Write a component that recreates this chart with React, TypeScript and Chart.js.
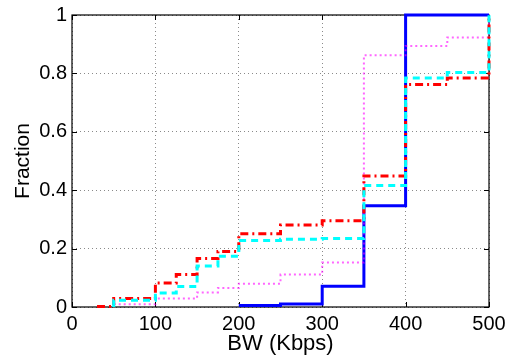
import React, { useEffect, useRef } from 'react';
import { Chart, registerables } from 'chart.js';
Chart.register(...registerables);

const xTickValues = [0, 100, 200, 300, 400, 500];
const yTickValues = [0, 0.2, 0.4, 0.6, 0.8, 1];

const blueX = [200, 250, 300, 350, 400, 500];
const blueY = [0.005, 0.01, 0.071, 0.347, 1, 1];

const cyanX = [50, 50, 100, 125, 150, 175, 200, 250, 300, 350, 400, 450, 500];
const cyanY = [0, 0.023, 0.048, 0.07, 0.14, 0.174, 0.228, 0.232, 0.235, 0.416, 0.784, 0.803, 1];

const redX = [30, 50, 100, 125, 150, 175, 200, 250, 300, 350, 400, 450, 500];
const redY = [0.002, 0.029, 0.082, 0.111, 0.166, 0.19, 0.251, 0.281, 0.295, 0.449, 0.762, 0.784, 1];

const magentaX = [50, 100, 150, 175, 200, 250, 300, 350, 400, 450, 500];
const magentaY = [0.009, 0.029, 0.05, 0.065, 0.08, 0.111, 0.152, 0.862, 0.894, 0.923, 1];

const xTitle = 'BW (Kbps)';
const yTitle = 'Fraction';

const FONT = '"Liberation Sans", Helvetica, Arial, sans-serif';

function pts(xs: number[], ys: number[]) {
  return xs.map((x, i) => ({ x, y: ys[i] }));
}

function zeroPad(s: any) {
  s.paddingLeft = 0;
  s.paddingRight = 0;
  s.paddingTop = 0;
  s.paddingBottom = 0;
}

const boxPlugin = {
  id: 'boxPlugin',
  beforeDatasetsDraw(chart: any) {
    const { ctx, chartArea: a, scales } = chart;
    ctx.save();
    ctx.strokeStyle = '#000';
    ctx.lineWidth = 1;
    ctx.beginPath();
    const tl = 5;
    xTickValues.forEach((v) => {
      const px = Math.round(scales.x.getPixelForValue(v)) + 0.5;
      ctx.moveTo(px, a.bottom);
      ctx.lineTo(px, a.bottom - tl);
      ctx.moveTo(px, a.top);
      ctx.lineTo(px, a.top + tl);
    });
    yTickValues.forEach((v) => {
      const py = Math.round(scales.y.getPixelForValue(v)) + 0.5;
      ctx.moveTo(a.left, py);
      ctx.lineTo(a.left + tl, py);
      ctx.moveTo(a.right, py);
      ctx.lineTo(a.right - tl, py);
    });
    ctx.stroke();
    ctx.lineWidth = 1.2;
    ctx.strokeRect(a.left, a.top, a.right - a.left, a.bottom - a.top);
    ctx.restore();
  },
};

export default function App() {
  const ref = useRef<HTMLCanvasElement | null>(null);
  useEffect(() => {
    if (!ref.current) return;
    const chart = new Chart(ref.current, {
      type: 'line',
      data: {
        datasets: [
          {
            label: 'blue',
            data: pts(blueX, blueY),
            borderColor: '#0000ff',
            borderWidth: 3,
            stepped: 'before',
            pointRadius: 0,
            fill: false,
            order: 4,
            clip: false,
          },
          {
            label: 'magenta',
            data: pts(magentaX, magentaY),
            borderColor: 'rgba(255,0,255,0.6)',
            borderWidth: 2,
            borderDash: [2, 3],
            stepped: 'before',
            pointRadius: 0,
            fill: false,
            order: 3,
            clip: false,
          },
          {
            label: 'red',
            data: pts(redX, redY),
            borderColor: '#ff0000',
            borderWidth: 3,
            borderDash: [8, 4, 2, 4],
            stepped: 'before',
            pointRadius: 0,
            fill: false,
            order: 2,
            clip: false,
          },
          {
            label: 'cyan',
            data: pts(cyanX, cyanY),
            borderColor: '#00ffff',
            borderWidth: 3,
            borderDash: [7, 5],
            stepped: 'before',
            pointRadius: 0,
            fill: false,
            order: 1,
            clip: false,
          },
        ],
      },
      options: {
        animation: false,
        responsive: false,
        maintainAspectRatio: false,
        events: [],
        layout: { padding: { left: 0, right: 18, top: 15, bottom: 0 } },
        plugins: { legend: { display: false }, tooltip: { enabled: false } },
        scales: {
          x: {
            type: 'linear',
            min: 0,
            max: 500,
            afterBuildTicks: (s: any) => {
              s.ticks = xTickValues.map((v) => ({ value: v }));
            },
            afterFit: (s: any) => {
              s.height = 51;
              zeroPad(s);
            },
            ticks: {
              color: '#000',
              font: { family: FONT, size: 20 },
              padding: 5,
              maxRotation: 0,
              autoSkip: false,
            },
            grid: { color: '#8a8a8a', lineWidth: 1, drawTicks: false },
            border: { display: false, dash: [1, 3] },
            title: {
              display: true,
              text: xTitle,
              color: '#000',
              font: { family: FONT, size: 22 },
              padding: { top: 0, bottom: 1 },
            },
          },
          y: {
            type: 'linear',
            min: 0,
            max: 1,
            afterBuildTicks: (s: any) => {
              s.ticks = yTickValues.map((v) => ({ value: v }));
            },
            afterFit: (s: any) => {
              s.width = 72;
              zeroPad(s);
            },
            ticks: {
              color: '#000',
              font: { family: FONT, size: 20 },
              padding: 5,
              autoSkip: false,
              callback: (v: any) => String(Number(Number(v).toFixed(1))),
            },
            grid: { color: '#8a8a8a', lineWidth: 1, drawTicks: false },
            border: { display: false, dash: [1, 3] },
            title: {
              display: true,
              text: yTitle,
              color: '#000',
              font: { family: FONT, size: 21 },
              padding: { top: 11, bottom: 0 },
            },
          },
        },
      },
      plugins: [boxPlugin],
    });
    return () => chart.destroy();
  }, []);
  return (
    <div style={{ position: 'fixed', left: 0, top: 0, width: 507, height: 358, background: '#fff' }}>
      <canvas ref={ref} width={507} height={358} style={{ width: 507, height: 358, display: 'block' }} />
    </div>
  );
}
